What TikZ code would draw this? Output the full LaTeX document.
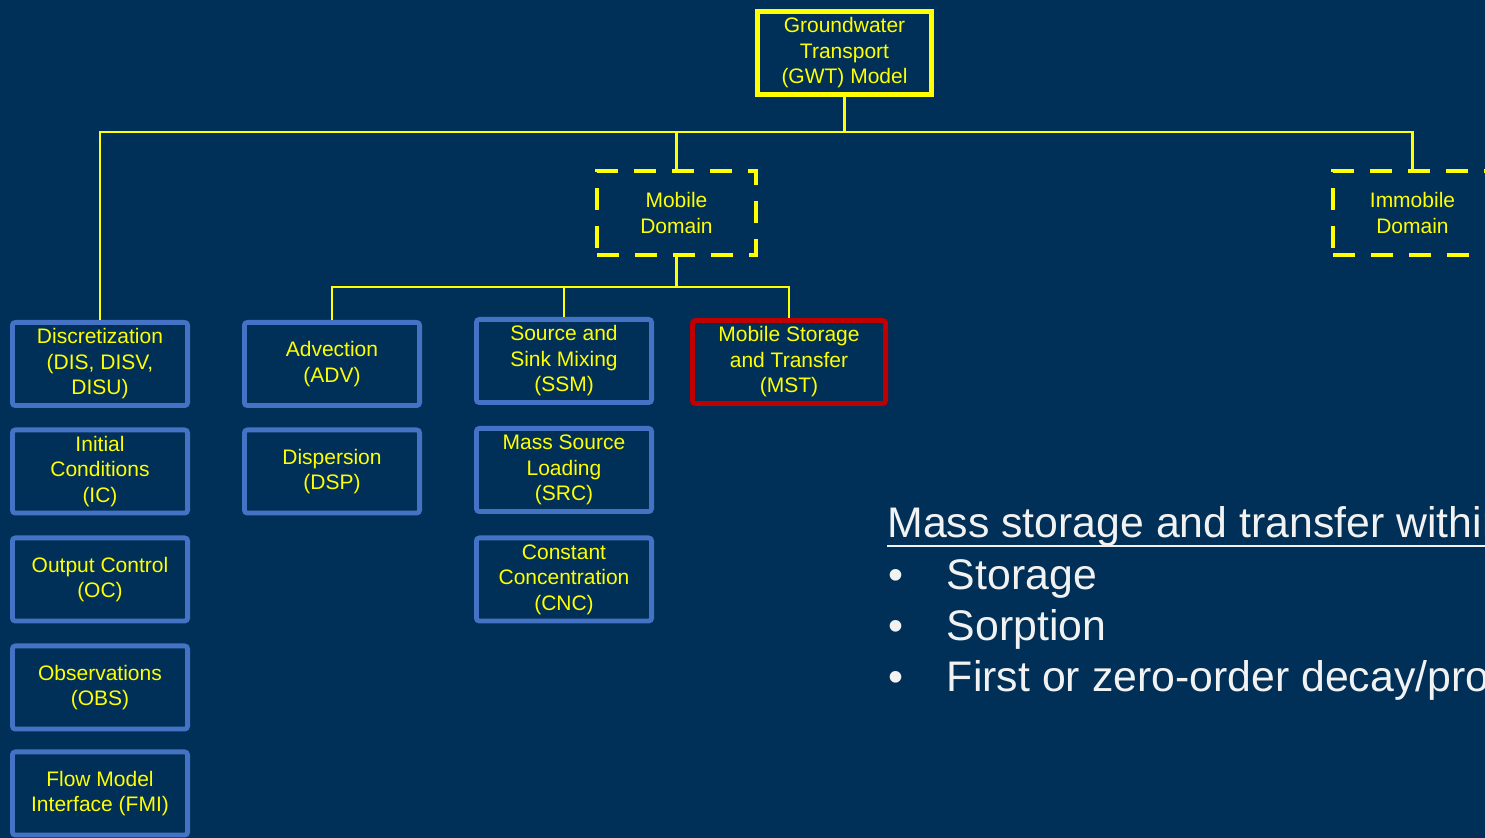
\documentclass[tikz,border=0pt]{standalone}
\usepackage{fontspec}
\setmainfont{Liberation Sans}
\usepackage{tikz}
\usetikzlibrary{positioning}

\definecolor{slidebg}{RGB}{0,48,87}
\definecolor{pkgblue}{RGB}{68,114,196}
\definecolor{mstred}{RGB}{192,0,0}
\definecolor{lineyel}{RGB}{255,255,0}
\definecolor{notewhite}{RGB}{242,242,242}

\begin{document}
\begin{tikzpicture}[
      x=0.5pt, y=-0.5pt,
      font=\fontsize{10.5}{12.75}\selectfont,
      pkg/.style={draw=pkgblue, line width=2.4pt, rounded corners=1.5pt, align=center,
        text=lineyel, inner sep=0pt, minimum width=87.6pt, minimum height=41.6pt},
      mst/.style={pkg, draw=mstred, minimum width=96.6pt},
      model/.style={draw=lineyel, line width=2.5pt, align=center, text=lineyel,
        inner sep=0pt, minimum width=87pt, minimum height=41.5pt},
      dombox/.style={draw=lineyel, line width=2.2pt, dash pattern=on 11pt off 8pt,
        align=center, text=lineyel, inner sep=0pt, minimum width=79.3pt, minimum height=41.8pt},
      wire/.style={draw=lineyel, line width=1.4pt},
      note/.style={text=notewhite, anchor=base west, inner sep=0pt,
        font=\fontsize{21.4}{25}\selectfont}]
    \useasboundingbox (0,0) rectangle (1485,838);
    \clip (0,0) rectangle (1485,838);
    \fill[slidebg] (0,0) rectangle (1485,838);

    % model and domains
    \node[model]  (gwt)   at (844.5,53)  {Groundwater\\Transport\\(GWT) Model};
    \node[dombox] (mob)   at (676.5,213) {Mobile\\Domain};
    \node[dombox] (immob) at (1412.5,213) {Immobile\\Domain};

    % packages, first column
    \node[pkg] (dis) at (100,364)   {Discretization\\(DIS, DISV,\\DISU)};
    \node[pkg] (ic)  at (100,471.5) {Initial\\Conditions\\(IC)};
    \node[pkg] (oc)  at (100,579.5) {Output Control\\(OC)};
    \node[pkg] (obs) at (100,687.5) {Observations\\(OBS)};
    \node[pkg] (fmi) at (100,793.5) {Flow Model\\Interface (FMI)};

    % mobile domain packages
    \node[pkg] (adv) at (332,364)   {Advection\\(ADV)};
    \node[pkg] (dsp) at (332,471.5) {Dispersion\\(DSP)};
    \node[pkg] (ssm) at (564,361)   {Source and\\Sink Mixing\\(SSM)};
    \node[pkg] (src) at (564,470)   {Mass Source\\Loading\\(SRC)};
    \node[pkg] (cnc) at (564,579.5) {Constant\\Concentration\\(CNC)};
    \node[mst] (mstp) at (789,362)  {Mobile Storage\\and Transfer\\(MST)};

    % connectors
    \coordinate (topbus) at (844,132);
    \coordinate (midbus) at (676,287);
    \draw[wire] (gwt.south) -- (gwt.south |- topbus);
    \draw[wire] (dis.north) -- (dis.north |- topbus) -| (immob.north);
    \draw[wire] (mob.north) -- (mob.north |- topbus);
    \draw[wire] (mob.south) -- (mob.south |- midbus);
    \draw[wire] (adv.north) -- (adv.north |- midbus) -| (mstp.north);
    \draw[wire] (ssm.north) -- (ssm.north |- midbus);

    % note on the right
    \node[note] (head)  at (887,538) {Mass storage and transfer within};
    \draw[notewhite, line width=1pt] ([yshift=-4pt]head.base west) -- ([yshift=-4pt]head.base east);
    \node[note] (itemA) at (888,589.5) {\makebox[29.3pt][l]{•}Storage};
    \node[note] (itemB) at (888,640.5) {\makebox[29.3pt][l]{•}Sorption};
    \node[note] (itemC) at (888,691.5) {\makebox[29.3pt][l]{•}First or zero-order decay/production};
  \end{tikzpicture}
\end{document}
